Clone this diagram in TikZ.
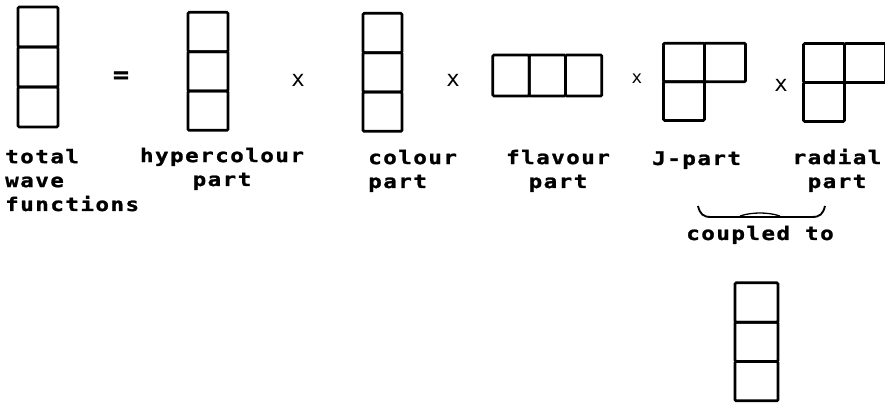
\documentclass[tikz,border=0pt]{standalone}
\usepackage{fontspec}
\usepackage{tikz}
\usetikzlibrary{positioning}
\newfontfamily\tabfont[FakeStretch=1.2,LetterSpace=8,FakeBold=1.2]{DejaVu Sans Mono Bold}
\newfontfamily\opfont{DejaVu Sans Mono}

\begin{document}
\begin{tikzpicture}[x=0.03cm,y=-0.03cm,
 cell/.style={draw,line width=2.3pt,rounded corners=1pt,outer sep=0pt,inner sep=0pt,minimum width=1.2cm,minimum height=1.2cm},
 lbl/.style={font=\tabfont\fontsize{16}{20.4}\selectfont,inner sep=0pt},
 op/.style={font=\opfont\fontsize{19}{19}\selectfont,inner sep=0pt}
]
\useasboundingbox (0,0) rectangle (885,403);
% total wave functions
\node[cell] (tot1) at (38,27) {};
\node[cell,below=0pt of tot1] (tot2) {};
\node[cell,below=0pt of tot2] (tot3) {};
\node[op,font=\tabfont\fontsize{19}{19}\selectfont] (eq) at (121,77) {=};
% hypercolour part
\node[cell,minimum height=1.18cm] (hyp1) at (208,32) {};
\node[cell,minimum height=1.18cm,below=0pt of hyp1] (hyp2) {};
\node[cell,minimum height=1.18cm,below=0pt of hyp2] (hyp3) {};
\node[op] (x1) at (298,80) {x};
% colour part
\node[cell,minimum width=1.17cm,minimum height=1.18cm] (col1) at (382.5,33) {};
\node[cell,minimum width=1.17cm,minimum height=1.18cm,below=0pt of col1] (col2) {};
\node[cell,minimum width=1.17cm,minimum height=1.18cm,below=0pt of col2] (col3) {};
\node[op] (x2) at (453,80) {x};
% flavour part
\node[cell,minimum width=1.09cm,minimum height=1.23cm] (fla1) at (511,75.5) {};
\node[cell,minimum width=1.09cm,minimum height=1.23cm,right=0pt of fla1] (fla2) {};
\node[cell,minimum width=1.09cm,minimum height=1.23cm,right=0pt of fla2] (fla3) {};
\node[op,font=\opfont\fontsize{15}{15}\selectfont] (x3) at (637,79) {x};
% J-part
\node[cell,minimum width=1.23cm,minimum height=1.16cm] (jp1) at (684,62.5) {};
\node[cell,minimum width=1.23cm,minimum height=1.16cm,right=0pt of jp1] (jp2) {};
\node[cell,minimum width=1.23cm,minimum height=1.16cm,below=0pt of jp1] (jp3) {};
\node[op] (x4) at (781,85) {x};
% radial part
\node[cell,minimum width=1.23cm,minimum height=1.17cm] (rad1) at (824,63) {};
\node[cell,minimum width=1.23cm,minimum height=1.17cm,right=0pt of rad1] (rad2) {};
\node[cell,minimum width=1.23cm,minimum height=1.17cm,below=0pt of rad1] (rad3) {};
% labels
\node[lbl,anchor=base west,align=left] (ltot) at (5,211) {total\\wave\\functions};
\node[lbl,anchor=base,align=center] (lhyp) at (222,186) {hypercolour\\part};
\node[lbl,anchor=base west,align=left] (lcol) at (368,188) {colour\\part};
\node[lbl,anchor=base,align=center] (lfla) at (558,188) {flavour\\part};
\node[lbl,anchor=base west] (ljp) at (652,165) {J-part};
\node[lbl,anchor=base,align=center] (lrad) at (837,188) {radial\\part};
% coupling
\coordinate (bl) at (698,206);
\coordinate (br) at (825,206);
\draw[line width=1.6pt] (bl) .. controls (700,214) and (703,217) .. (711,217) -- (812,217) .. controls (820,217) and (823,214) .. (br);
\draw[line width=1.1pt] (740,216) .. controls (752,212) and (768,212) .. (780,216);
\node[lbl,anchor=base] (cpl) at (760,240) {coupled to};
\node[cell,minimum width=1.29cm,minimum height=1.18cm] (res1) at (756.5,302.5) {};
\node[cell,minimum width=1.29cm,minimum height=1.18cm,below=0pt of res1] (res2) {};
\node[cell,minimum width=1.29cm,minimum height=1.18cm,below=0pt of res2] (res3) {};
\end{tikzpicture}
\end{document}
